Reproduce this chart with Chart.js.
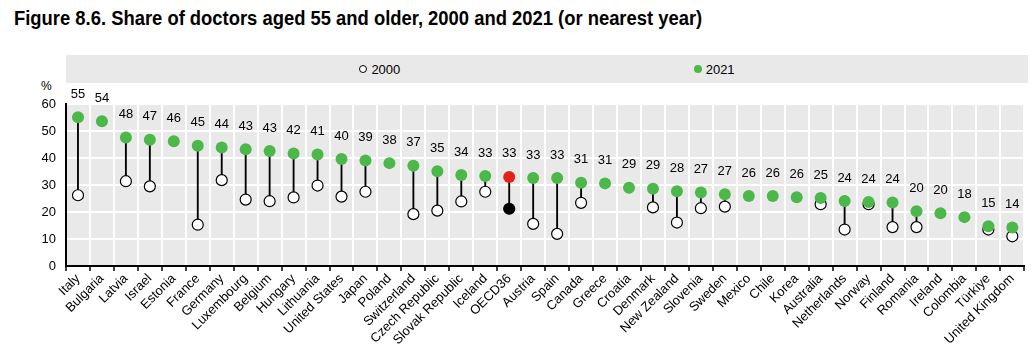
<!DOCTYPE html>
<html>
<head>
<meta charset="utf-8">
<script src="https://cdn.jsdelivr.net/npm/chart.js@4.4.1/dist/chart.umd.min.js"></script>
<style>
  body { margin: 0; background: #fff; font-family: "Liberation Sans", Arial, sans-serif; }
  #wrap { position: relative; width: 1031px; height: 358px; }
  #title { position: absolute; left: 14px; top: 7px; font-family: "Liberation Sans", Arial, sans-serif; font-weight: bold; font-size: 20px; white-space: nowrap; transform: scaleX(0.92); transform-origin: left top; }
  #legend { position: absolute; left: 66px; top: 55px; width: 962px; height: 28px; background: #e9e9e9; display: flex; justify-content: space-evenly; align-items: center; font-size: 13px; }
  #legend span.item { display: flex; align-items: center; }
  #legend i { display: inline-block; width: 8px; height: 8px; border-radius: 50%; margin-right: 4px; box-sizing: border-box; }
  #pct { position: absolute; left: 41px; top: 79px; font-size: 12px; }
  #box { position: absolute; left: 0; top: 85px; width: 1031px; height: 273px; }
</style>
</head>
<body>
<div id="wrap">
  <div id="title">Figure 8.6. Share of doctors aged 55 and older, 2000 and 2021 (or nearest year)</div>
  <div id="legend"></div>
  <div id="pct">%</div>
  <div id="box"><canvas id="chart" width="1031" height="273"></canvas></div>
</div>
<script>
// categories
const countries = ['Italy', 'Bulgaria', 'Latvia', 'Israel', 'Estonia', 'France', 'Germany', 'Luxembourg',
  'Belgium', 'Hungary', 'Lithuania', 'United States', 'Japan', 'Poland', 'Switzerland', 'Czech Republic',
  'Slovak Republic', 'Iceland', 'OECD36', 'Austria', 'Spain', 'Canada', 'Greece', 'Croatia', 'Denmark',
  'New Zealand', 'Slovenia', 'Sweden', 'Mexico', 'Chile', 'Korea', 'Australia', 'Netherlands', 'Norway',
  'Finland', 'Romania', 'Ireland', 'Colombia', 'Türkiye', 'United Kingdom'];

// share aged 55+ (%)
const y2021 = [55.1, 53.6, 47.6, 46.8, 46.2, 44.5, 43.9, 43.2, 42.6, 41.7, 41.3, 39.6, 39.1, 38.1, 37.1, 35.1,
  33.7, 33.3, 33.0, 32.6, 32.6, 30.8, 30.6, 29.0, 28.6, 27.7, 27.2, 26.6, 25.9, 25.9, 25.5, 25.2, 24.1, 23.7,
  23.5, 20.3, 19.5, 18.1, 14.7, 14.3];
const y2000 = [26.2, null, 31.4, 29.5, null, 15.3, 31.8, 24.6, 24.0, 25.4, 29.8, 25.7, 27.5, null, 19.2, 20.5,
  23.9, 27.5, 21.2, 15.6, 11.9, 23.4, null, null, 21.7, 16.1, 21.4, 22.0, null, null, null, 22.9, 13.5, 22.9,
  14.4, 14.4, null, null, 13.5, 11.0];

const green = '#4cb849';
const red = '#e2231a';
const isAvg = countries.map(c => c === 'OECD36');

// legend
document.getElementById('legend').innerHTML =
  '<span class="item"><i style="background:#fff;border:1px solid #000"></i>2000</span>' +
  '<span class="item"><i style="background:' + green + '"></i>2021</span>';

const areaBg = {
  id: 'areaBg',
  beforeDraw(chart) {
    const a = chart.chartArea, ctx = chart.ctx;
    ctx.save();
    ctx.fillStyle = '#e9e9e9';
    ctx.fillRect(a.left, a.top, a.right - a.left, a.bottom - a.top);
    ctx.restore();
  }
};

// value labels above the 2021 dots
const valueLabels = {
  id: 'valueLabels',
  afterDatasetsDraw(chart) {
    const meta = chart.getDatasetMeta(2), ctx = chart.ctx;
    ctx.save();
    ctx.font = '13px "Liberation Sans", Arial, sans-serif';
    ctx.fillStyle = '#000';
    ctx.textAlign = 'center';
    ctx.textBaseline = 'middle';
    meta.data.forEach((pt, i) => {
      ctx.fillText(Math.round(y2021[i]), pt.x, pt.y - 23);
    });
    ctx.restore();
  }
};

new Chart(document.getElementById('chart'), {
  type: 'bar',
  data: {
    labels: countries,
    datasets: [
      {
        type: 'bar',
        label: 'link',
        data: y2000.map((v, i) => v === null ? null : [v, y2021[i]]),
        backgroundColor: '#000',
        barThickness: 1.2,
        order: 3
      },
      {
        type: 'line',
        label: '2000',
        data: y2000,
        showLine: false,
        pointRadius: 5.5,
        pointBackgroundColor: isAvg.map(a => a ? '#000' : '#fff'),
        pointBorderColor: '#000',
        pointBorderWidth: 1.2,
        order: 2
      },
      {
        type: 'line',
        label: '2021',
        data: y2021,
        showLine: false,
        pointRadius: 6,
        pointBackgroundColor: isAvg.map(a => a ? red : green),
        pointBorderColor: isAvg.map(a => a ? red : green),
        pointBorderWidth: 0,
        order: 1
      }
    ]
  },
  options: {
    responsive: false,
    animation: false,
    layout: { padding: { top: 19, right: 3, left: 0, bottom: 0 } },
    plugins: {
      legend: { display: false },
      tooltip: { enabled: false }
    },
    scales: {
      x: {
        offset: true,
        grid: { offset: true, color: '#fff', lineWidth: 2, tickColor: '#000', tickLength: 5, tickWidth: 1.5 },
        border: { color: '#000', width: 2 },
        ticks: {
          color: '#000',
          font: { size: 13, family: '"Liberation Sans", Arial, sans-serif' },
          minRotation: 45, maxRotation: 45, autoSkip: false, padding: 0
        },
        afterFit(s) { s.height = 92; }
      },
      y: {
        min: 0, max: 60,
        ticks: { stepSize: 10, color: '#000', padding: 10, font: { size: 13, family: '"Liberation Sans", Arial, sans-serif' } },
        grid: { color: '#fff', lineWidth: 2, drawTicks: false },
        border: { color: '#000', width: 2 },
        afterFit(s) { s.width = 66; }
      }
    }
  },
  plugins: [areaBg, valueLabels]
});
</script>
</body>
</html>
